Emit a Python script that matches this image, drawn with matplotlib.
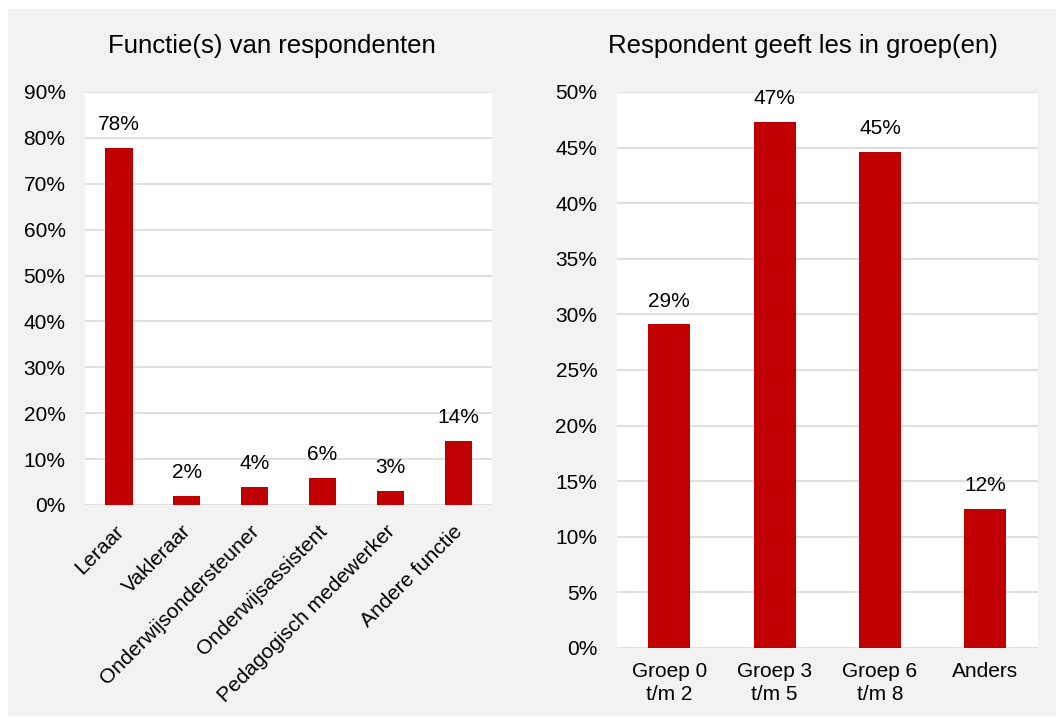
import matplotlib.pyplot as plt
import matplotlib.transforms as mtransforms
from matplotlib.patches import Rectangle
from matplotlib.ticker import PercentFormatter

plt.rcParams['font.family'] = ['Liberation Sans', 'DejaVu Sans']

functies = ["Leraar", "Vakleraar", "Onderwijsondersteuner", "Onderwijsassistent",
            "Pedagogisch medewerker", "Andere functie"]
functie_pct = [77.8, 2.0, 3.9, 5.9, 3.0, 13.9]

groepen = ["Groep 0\nt/m 2", "Groep 3\nt/m 5", "Groep 6\nt/m 8", "Anders"]
groep_pct = [29.1, 47.3, 44.6, 12.5]

rood = "#c00000"
grid = "#d9d9d9"

fig = plt.figure(figsize=(10.56, 7.18), dpi=100, facecolor="white")
fig.patches.append(Rectangle((8/1056, 2/718), 1 - 8/1056, 1 - 11/718,
                             transform=fig.transFigure, facecolor="#f2f2f2",
                             edgecolor="none", zorder=-10))

ax1 = fig.add_axes([0.0805, 0.2967, 0.3855, 0.5752])
ax2 = fig.add_axes([0.584, 0.0975, 0.399, 0.7744])


def opmaak(ax, ymax, stap):
    ax.set_facecolor("white")
    ax.set_ylim(0, ymax)
    ax.set_yticks([i * stap for i in range(int(round(ymax / stap)) + 1)])
    ax.yaxis.set_major_formatter(PercentFormatter(decimals=0))
    ax.grid(axis="y", color=grid, linewidth=1.2, zorder=0)
    ax.set_axisbelow(True)
    for s in ax.spines.values():
        s.set_visible(False)
    ax.tick_params(axis="both", length=0, labelsize=15, colors="black")
    ax.tick_params(axis="y", pad=14)


ax1.bar(range(len(functies)), functie_pct, width=0.4, color=rood, zorder=3)
opmaak(ax1, 90, 10)
ax1.set_xlim(-0.5, len(functies) - 0.5)
ax1.set_xticks(range(len(functies)))
ax1.set_xticklabels(functies, rotation=45, ha="right", rotation_mode="anchor")
ax1.tick_params(axis="x", pad=12)
schuif = mtransforms.ScaledTranslation(-5/100, 0, fig.dpi_scale_trans)
for lab in ax1.get_xticklabels():
    lab.set_transform(lab.get_transform() + schuif)
for x, v in enumerate(functie_pct):
    ax1.annotate(f"{v:.0f}%", (x, v), xytext=(0, 10), textcoords="offset points",
                 ha="center", va="bottom", fontsize=15)

ax2.bar(range(len(groepen)), groep_pct, width=0.4, color=rood, zorder=3)
opmaak(ax2, 50, 5)
ax2.set_xlim(-0.5, len(groepen) - 0.5)
ax2.set_xticks(range(len(groepen)))
ax2.set_xticklabels(groepen, linespacing=1.3)
ax2.tick_params(axis="x", pad=10)
for x, v in enumerate(groep_pct):
    ax2.annotate(f"{v:.0f}%", (x, v), xytext=(0, 10), textcoords="offset points",
                 ha="center", va="bottom", fontsize=15)

fig.text(272/1056, 1 - 46/718, "Functie(s) van respondenten", ha="center",
         va="center", fontsize=18.5)
fig.text(803/1056, 1 - 46/718, "Respondent geeft les in groep(en)", ha="center",
         va="center", fontsize=18.5)

fig.savefig("out.png", dpi=100, facecolor=fig.get_facecolor())
